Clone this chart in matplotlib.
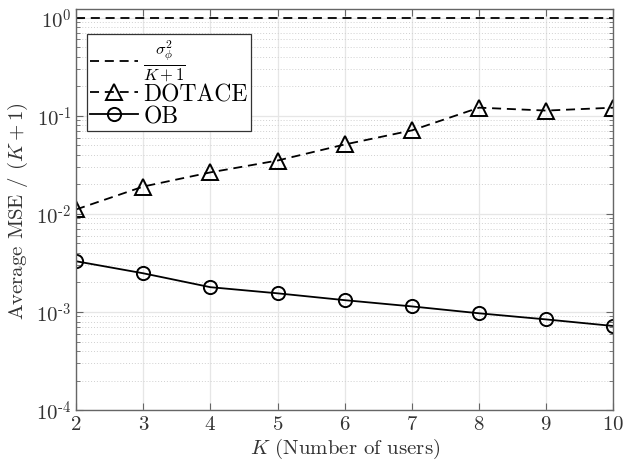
import matplotlib
matplotlib.use("Agg")
import matplotlib.pyplot as plt
from matplotlib.ticker import LogLocator, NullFormatter, FuncFormatter
import numpy as np

plt.rcParams['font.family'] = 'serif'
plt.rcParams['font.serif'] = ['cmr10', 'DejaVu Serif']
plt.rcParams['mathtext.fontset'] = 'cm'
plt.rcParams['axes.formatter.use_mathtext'] = True

# Данные
K = [2, 3, 4, 5, 6, 7, 8, 9, 10]
bound = [1.0] * len(K)
dotace = [0.0111, 0.019, 0.0265, 0.035, 0.051, 0.071, 0.121, 0.113, 0.121]
ob = [0.00329, 0.00248, 0.00179, 0.00155, 0.00132, 0.00114, 0.00097, 0.00084, 0.00072]

fig = plt.figure(figsize=(6.24, 4.64), dpi=100)
ax = fig.add_axes([0.122, 0.114, 0.861, 0.864])

dash = (0, (5, 3.2))
ax.semilogy(K, bound, color='k', linestyle=dash, linewidth=1.3,
            label=r'$\frac{\sigma_\phi^2}{K+1}$')
ax.semilogy(K, dotace, color='k', linestyle=dash, marker='^', linewidth=1.3, markersize=11,
            markerfacecolor='none', markeredgewidth=1.4, label='DOTACE')
ax.semilogy(K, ob, color='k', linestyle='-', marker='o', linewidth=1.3, markersize=9.5,
            markerfacecolor='none', markeredgewidth=1.4, label='OB')

ax.set_xlim(2, 10)
ax.set_ylim(1e-4, 1.22)
ax.set_xticks(K)
ax.yaxis.set_major_locator(LogLocator(base=10, numticks=10))
ax.yaxis.set_major_formatter(FuncFormatter(
    lambda v, p: r'$10^{%s}$' % (r'\text{-}%d' % -round(np.log10(v)) if v < 1 else '0')))
ax.yaxis.set_minor_locator(LogLocator(base=10, subs=range(2, 10), numticks=20))
ax.yaxis.set_minor_formatter(NullFormatter())

ax.grid(True, which='major', color='#e6e6e6', linewidth=0.9, linestyle='-')
ax.grid(True, which='minor', axis='y', color='#d0d0d0', linewidth=0.7, linestyle=(0, (1, 2)))
ax.set_axisbelow(True)

for s in ax.spines.values():
    s.set_color('#666666')
    s.set_linewidth(1.0)
ax.tick_params(which='both', direction='in', top=True, right=True, colors='#666666',
               labelcolor='#333333', labelsize=15)
ax.tick_params(which='major', length=5)
ax.tick_params(which='minor', length=3)

ax.set_xlabel(r'$K$ (Number of users)', fontsize=15, color='#333333', labelpad=2)
ax.set_ylabel(r'Average MSE / $(K+1)$', fontsize=15, color='#333333', labelpad=4)

leg = ax.legend(loc='upper left', bbox_to_anchor=(0.0, 0.965), fontsize=17,
                fancybox=False, edgecolor='#333333', framealpha=1,
                handlelength=2.0, handletextpad=0.25, borderpad=0.15, labelspacing=0.0,
                borderaxespad=0.45)
leg.get_frame().set_linewidth(0.9)

plt.savefig('out.png', dpi=100)
plt.close()
